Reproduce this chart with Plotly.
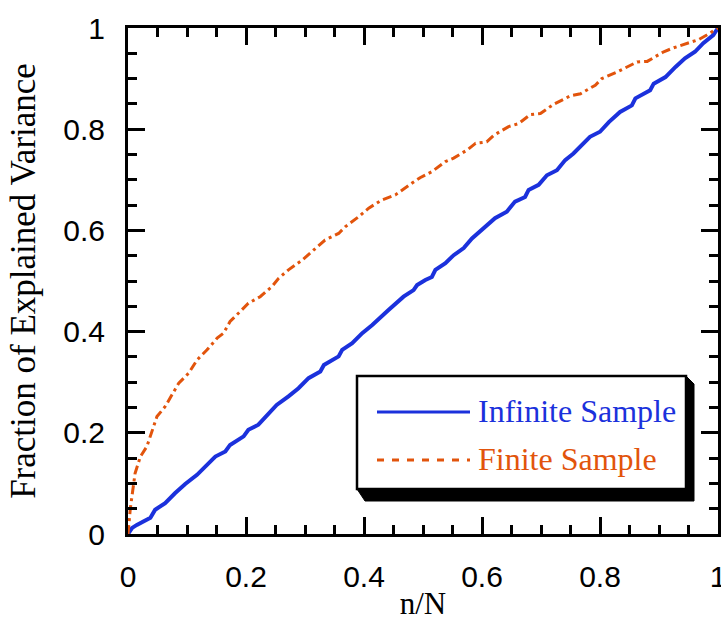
import plotly.graph_objects as go

# ---- data ----
x_inf = [0.0, 0.007, 0.015, 0.038, 0.046, 0.063, 0.080, 0.097, 0.117, 0.131, 0.148, 0.165, 0.173,
         0.196, 0.204, 0.221, 0.236, 0.252, 0.272, 0.289, 0.306, 0.326, 0.332, 0.357, 0.363, 0.380,
         0.397, 0.414, 0.442, 0.467, 0.484, 0.490, 0.504, 0.515, 0.521, 0.538, 0.552, 0.569, 0.583,
         0.600, 0.622, 0.642, 0.656, 0.673, 0.679, 0.696, 0.710, 0.727, 0.741, 0.755, 0.766, 0.783,
         0.800, 0.815, 0.834, 0.854, 0.860, 0.885, 0.891, 0.911, 0.928, 0.944, 0.961, 0.975, 0.992, 1.0]
y_inf = [0.0, 0.012, 0.018, 0.032, 0.048, 0.061, 0.081, 0.099, 0.117, 0.133, 0.153, 0.163, 0.176,
         0.193, 0.206, 0.216, 0.235, 0.255, 0.272, 0.288, 0.308, 0.321, 0.334, 0.351, 0.364, 0.377,
         0.397, 0.413, 0.443, 0.469, 0.482, 0.492, 0.502, 0.508, 0.522, 0.535, 0.551, 0.565, 0.584,
         0.601, 0.624, 0.637, 0.657, 0.666, 0.680, 0.690, 0.709, 0.719, 0.739, 0.752, 0.765, 0.785,
         0.795, 0.814, 0.834, 0.847, 0.861, 0.877, 0.890, 0.903, 0.923, 0.940, 0.953, 0.970, 0.986, 1.0]

x_fin = [0.0, 0.004, 0.012, 0.021, 0.032, 0.041, 0.049, 0.063, 0.077, 0.086, 0.103, 0.117, 0.134,
         0.151, 0.162, 0.173, 0.193, 0.204, 0.224, 0.244, 0.255, 0.272, 0.295, 0.312, 0.334, 0.357,
         0.368, 0.391, 0.408, 0.430, 0.453, 0.481, 0.495, 0.515, 0.538, 0.552, 0.575, 0.589, 0.608,
         0.620, 0.645, 0.662, 0.682, 0.699, 0.721, 0.750, 0.767, 0.792, 0.803, 0.829, 0.863, 0.880,
         0.908, 0.925, 0.950, 0.967, 0.981, 1.0]
y_fin = [0.0, 0.051, 0.120, 0.153, 0.173, 0.206, 0.232, 0.252, 0.281, 0.298, 0.318, 0.344, 0.364,
         0.387, 0.397, 0.420, 0.443, 0.456, 0.469, 0.489, 0.505, 0.522, 0.541, 0.558, 0.581, 0.594,
         0.607, 0.627, 0.644, 0.660, 0.670, 0.693, 0.704, 0.716, 0.736, 0.743, 0.759, 0.772, 0.775,
         0.788, 0.805, 0.811, 0.829, 0.831, 0.849, 0.866, 0.870, 0.887, 0.900, 0.913, 0.933, 0.934,
         0.953, 0.961, 0.970, 0.977, 0.986, 1.0]

series_names = ["Infinite Sample", "Finite Sample"]
tick_vals = [0, 0.2, 0.4, 0.6, 0.8, 1]
tick_text = ["0", "0.2", "0.4", "0.6", "0.8", "1"]

BLUE = "#1b31dc"
ORANGE = "#e2540c"
SERIF = "Liberation Serif, Times New Roman"

W, H = 721, 621
ML, MR, MT, MB = 128, 3, 28, 87
PW, PH = W - ML - MR, H - MT - MB


def px2x(px):
    return (px - ML) / PW


def py2y(py):
    return (MT + PH - py) / PH


fig = go.Figure()
fig.add_trace(go.Scatter(x=x_inf, y=y_inf, mode="lines", name=series_names[0],
                         line=dict(color=BLUE, width=4), showlegend=False))
fig.add_trace(go.Scatter(x=x_fin, y=y_fin, mode="lines", name=series_names[1],
                         line=dict(color=ORANGE, width=3, dash="9px,4px,3px,4px"),
                         showlegend=False))
# helper trace binding the mirrored (top/right) axes that carry the minor ticks
fig.add_trace(go.Scatter(x=[None], y=[None], xaxis="x2", yaxis="y2", showlegend=False,
                         hoverinfo="skip"))

minor = dict(dtick=0.05, ticks="inside", ticklen=9, tickwidth=2.5, tickcolor="black")
axis_common = dict(
    range=[0, 1], showgrid=False, zeroline=False, automargin=False,
    showline=True, linecolor="black", linewidth=3, mirror=True,
    ticks="inside", ticklen=17, tickwidth=2.5, tickcolor="black",
    tickvals=tick_vals, ticktext=tick_text,
    tickfont=dict(family="Liberation Sans, Arial", size=30, color="black"),
    minor=minor, ticklabeloverflow="allow",
)
mirror_common = dict(
    range=[0, 1], showgrid=False, zeroline=False, showline=False, automargin=False,
    ticks="inside", ticklen=17, tickwidth=2.5, tickcolor="black",
    tickvals=tick_vals, showticklabels=False, minor=minor,
)

fig.update_layout(
    xaxis=dict(**axis_common, ticklabelstandoff=14,
               title=dict(text="n/N", font=dict(family=SERIF, size=31, color="black"), standoff=2)),
    yaxis=dict(**axis_common, ticklabelstandoff=14,
               title=dict(text="Fraction of Explained Variance",
                          font=dict(family=SERIF, size=35, color="black"), standoff=18)),
    xaxis2=dict(**mirror_common, overlaying="x", side="top", anchor="y"),
    yaxis2=dict(**mirror_common, overlaying="y", side="right", anchor="x"),
)

# ---- manual legend box with 3D shadow ----
bx0, bx1, by0, by1 = 357, 686, 376, 489
sh = 8
path = (f"M {px2x(bx1)} {py2y(by0)} L {px2x(bx1 + sh)} {py2y(by0 + sh)} "
        f"L {px2x(bx1 + sh)} {py2y(by1 + 12)} L {px2x(bx0 + sh)} {py2y(by1 + 12)} "
        f"L {px2x(bx0)} {py2y(by1)} Z")
shapes = [
    dict(type="path", path=path, xref="x", yref="y", fillcolor="black", line=dict(color="black", width=1)),
    dict(type="rect", xref="x", yref="y", x0=px2x(bx0), x1=px2x(bx1), y0=py2y(by1), y1=py2y(by0),
         fillcolor="white", line=dict(color="black", width=2.5)),
    dict(type="line", xref="x", yref="y", x0=px2x(377), x1=px2x(470), y0=py2y(412), y1=py2y(412),
         line=dict(color=BLUE, width=3)),
    dict(type="line", xref="x", yref="y", x0=px2x(377), x1=px2x(470), y0=py2y(460), y1=py2y(460),
         line=dict(color=ORANGE, width=3, dash="7px,8px")),
]
annotations = [
    dict(x=px2x(476), y=py2y(411), xref="x", yref="y", text=series_names[0], showarrow=False,
         xanchor="left", yanchor="middle", font=dict(family=SERIF, size=32, color=BLUE)),
    dict(x=px2x(476), y=py2y(459), xref="x", yref="y", text=series_names[1], showarrow=False,
         xanchor="left", yanchor="middle", font=dict(family=SERIF, size=32, color=ORANGE)),
]

fig.update_layout(
    width=W, height=H,
    margin=dict(l=ML, r=MR, t=MT, b=MB, autoexpand=False),
    plot_bgcolor="white", paper_bgcolor="white",
    shapes=shapes, annotations=annotations,
    showlegend=False,
)

fig.write_html("out.html")
